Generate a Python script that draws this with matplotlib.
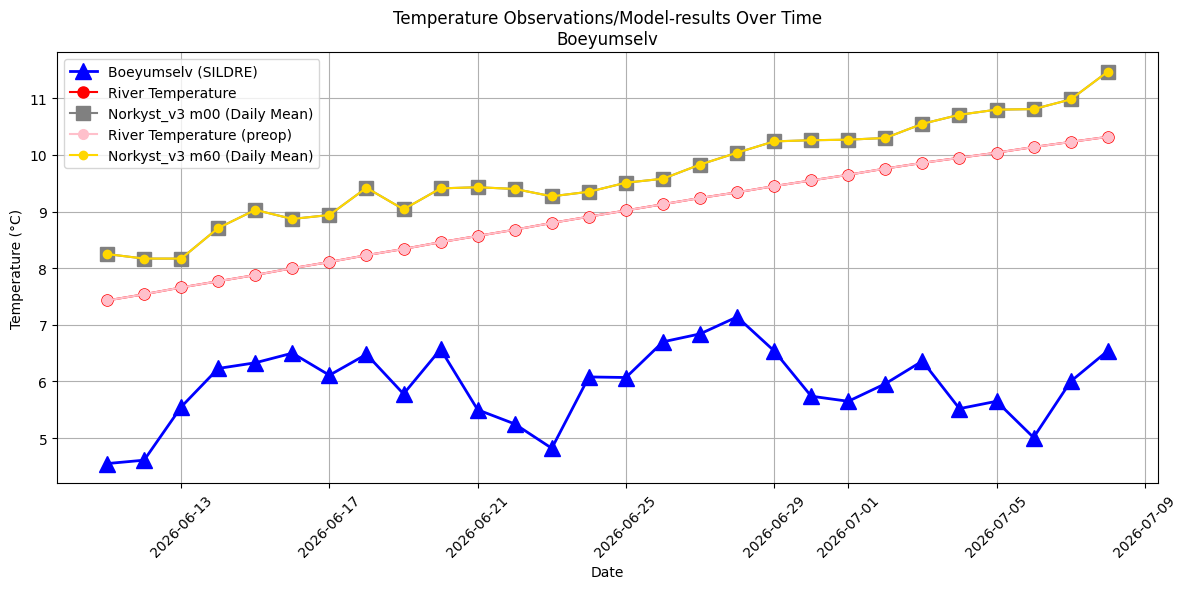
import numpy as np
import pandas as pd
import matplotlib
matplotlib.use("Agg")
import matplotlib.pyplot as plt

dates = pd.date_range("2026-06-11", "2026-07-08", freq="D")

sildre = [4.55, 4.61, 5.55, 6.23, 6.33, 6.50, 6.11, 6.48, 5.78, 6.57,
          5.50, 5.25, 4.82, 6.08, 6.07, 6.70, 6.84, 7.14, 6.54, 5.74,
          5.65, 5.96, 6.36, 5.52, 5.65, 5.01, 6.00, 6.54]

river_temp = [7.43, 7.54, 7.66, 7.77, 7.88, 8.00, 8.11, 8.23, 8.34, 8.46,
              8.57, 8.68, 8.80, 8.91, 9.02, 9.13, 9.24, 9.34, 9.45, 9.55,
              9.65, 9.76, 9.86, 9.95, 10.04, 10.14, 10.23, 10.32]
river_preop = list(river_temp)

m00 = [8.25, 8.17, 8.17, 8.71, 9.03, 8.87, 8.94, 9.42, 9.04, 9.41,
       9.43, 9.40, 9.27, 9.35, 9.51, 9.58, 9.83, 10.04, 10.24, 10.26,
       10.27, 10.30, 10.55, 10.71, 10.80, 10.81, 10.98, 11.47]
m60 = list(m00)

fig, ax = plt.subplots(figsize=(12, 6), dpi=100)

ax.plot(dates, sildre, color="blue", marker="^", markersize=12, linewidth=2,
        label="Boeyumselv (SILDRE)")
ax.plot(dates, river_temp, color="red", marker="o", markersize=8,
        label="River Temperature")
ax.plot(dates, m00, color="gray", marker="s", markersize=10,
        label="Norkyst_v3 m00 (Daily Mean)")
ax.plot(dates, river_preop, color="pink", marker="o", markersize=7,
        label="River Temperature (preop)")
ax.plot(dates, m60, color="gold", marker="o", markersize=6,
        label="Norkyst_v3 m60 (Daily Mean)")

ax.set_title("Temperature Observations/Model-results Over Time\nBoeyumselv")
ax.set_xlabel("Date")
ax.set_ylabel("Temperature (°C)")
ax.grid(True)
ax.legend(loc="upper left")
plt.setp(ax.get_xticklabels(), rotation=45)

fig.tight_layout()
fig.savefig("out.png", bbox_inches="tight")
